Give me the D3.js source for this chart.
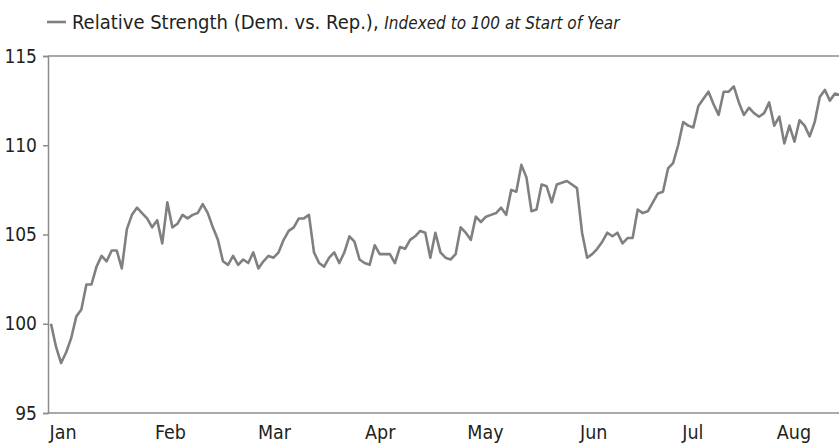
<!DOCTYPE html>
<html>
<head>
<meta charset="utf-8">
<script src="https://cdn.jsdelivr.net/npm/d3@7"></script>
<style>
  body { margin: 0; background: #fff; }
  text { font-family: "DejaVu Sans Condensed", "Liberation Sans Narrow", "Roboto", sans-serif; fill: #231f20; }
</style>
</head>
<body>
<div id="chart"></div>
<script>
// Relative strength, one value per trading day from the start of the year
let values = [
  100.0, 98.7, 97.8, 98.4, 99.2, 100.4, 100.8, 102.2, 102.2, 103.2,
  103.8, 103.5, 104.1, 104.1, 103.1, 105.3, 106.1, 106.5, 106.2, 105.9,
  105.4, 105.8, 104.5, 106.8, 105.4, 105.6, 106.1, 105.9, 106.1, 106.2,
  106.7, 106.2, 105.4, 104.7, 103.5, 103.3, 103.8, 103.3, 103.6, 103.4,
  104.0, 103.1, 103.5, 103.8, 103.7, 104.0, 104.7, 105.2, 105.4, 105.9,
  105.9, 106.1, 104.0, 103.4, 103.2, 103.7, 104.0, 103.4, 104.0, 104.9,
  104.6, 103.6, 103.4, 103.3, 104.4, 103.9, 103.9, 103.9, 103.4, 104.3,
  104.2, 104.7, 104.9, 105.2, 105.1, 103.7, 105.1, 104.0, 103.7, 103.6,
  103.9, 105.4, 105.1, 104.7, 106.0, 105.7, 106.0, 106.1, 106.2, 106.5,
  106.1, 107.5, 107.4, 108.9, 108.2, 106.3, 106.4, 107.8, 107.7, 106.8,
  107.8, 107.9, 108.0, 107.8, 107.6, 105.1, 103.7, 103.9, 104.2, 104.6,
  105.1, 104.9, 105.1, 104.5, 104.8, 104.8, 106.4, 106.2, 106.3, 106.8,
  107.3, 107.4, 108.7, 109.0, 110.0, 111.3, 111.1, 111.0, 112.2, 112.6,
  113.0, 112.3, 111.7, 113.0, 113.0, 113.3, 112.4, 111.7, 112.1, 111.8,
  111.6, 111.8, 112.4, 111.1, 111.6, 110.1, 111.1, 110.2, 111.4, 111.1,
  110.5, 111.3, 112.7, 113.1, 112.5, 112.9, 112.8
];

// Month labels and the trading-day index they sit under
let months = ["Jan", "Feb", "Mar", "Apr", "May", "Jun", "Jul", "Aug"];
let monthIdx = [2.4, 23.6, 44.2, 65.1, 85.9, 107.3, 126.9, 146.9];

let yTicks = [95, 100, 105, 110, 115];

let width = 839,
    height = 445;
let margin = {top: 56, right: 0, bottom: 32, left: 48};

let svg = d3.select("#chart")
    .append("svg")
    .attr("width", width)
    .attr("height", height);

let x = d3.scaleLinear()
    .domain([0, values.length - 1])
    .range([51, 840]);

let y = d3.scaleLinear()
    .domain([95, 115])
    .range([height - margin.bottom, margin.top]);

// frame lines: top and bottom
svg.append("line")
    .attr("x1", margin.left).attr("x2", width)
    .attr("y1", y(115)).attr("y2", y(115))
    .attr("stroke", "#8c8c8c").attr("stroke-width", 1.5);

svg.append("line")
    .attr("x1", margin.left).attr("x2", width)
    .attr("y1", y(95)).attr("y2", y(95))
    .attr("stroke", "#8c8c8c").attr("stroke-width", 1.5);

// y axis with short ticks
let yAxis = svg.append("g")
    .attr("transform", `translate(${margin.left}, 0)`)
    .call(d3.axisLeft(y).tickValues(yTicks).tickSize(5).tickPadding(6).tickFormat(d3.format("d")));
yAxis.attr("font-family", null).attr("font-size", null);
yAxis.select(".domain").attr("stroke", "#8c8c8c").attr("stroke-width", 1.5);
yAxis.selectAll(".tick line").attr("stroke", "#8c8c8c").attr("stroke-width", 1.5);
yAxis.selectAll(".tick text")
    .style("font-size", "19px")
    .attr("fill", "#231f20");

// month labels
svg.append("g")
    .selectAll("text")
    .data(months)
    .enter()
    .append("text")
    .attr("x", (d, i) => x(monthIdx[i]))
    .attr("y", 439)
    .style("text-anchor", "middle")
    .style("font-size", "19.5px")
    .text(d => d);

// the series line
let line = d3.line()
    .x((d, i) => x(i))
    .y(d => y(d));

svg.append("path")
    .datum(values)
    .attr("fill", "none")
    .attr("stroke", "#808080")
    .attr("stroke-width", 2.6)
    .attr("stroke-linejoin", "round")
    .attr("d", line);

// legend
svg.append("line")
    .attr("x1", 47).attr("x2", 66)
    .attr("y1", 22).attr("y2", 22)
    .attr("stroke", "#808080").attr("stroke-width", 2.6);

let legend = svg.append("text")
    .attr("x", 72)
    .attr("y", 29)
    .style("font-size", "20px");
legend.append("tspan").text("Relative Strength (Dem. vs. Rep.), ");
legend.append("tspan")
    .style("font-style", "italic")
    .style("font-size", "17px")
    .text("Indexed to 100 at Start of Year");
</script>
</body>
</html>
